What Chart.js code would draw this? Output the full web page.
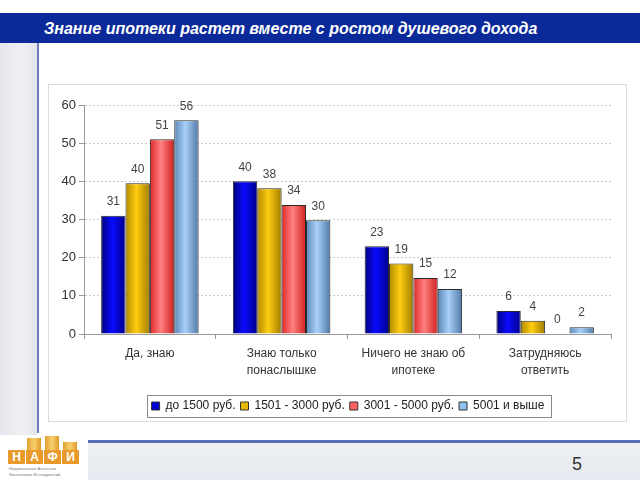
<!DOCTYPE html>
<html><head><meta charset="utf-8">
<script src="https://cdn.jsdelivr.net/npm/chart.js@4/dist/chart.umd.min.js"></script>
<style>
html,body{margin:0;padding:0;width:640px;height:480px;background:#fff;overflow:hidden;font-family:"Liberation Sans",Arial,sans-serif;}
#title{position:absolute;left:0;top:13px;width:640px;height:30px;background:#0b2a9a;color:#fff;font-weight:bold;font-style:italic;font-size:16px;line-height:31px;box-sizing:border-box;padding-left:44px;letter-spacing:0px;}
#leftstrip{position:absolute;left:0;top:43px;width:37px;height:392px;background:linear-gradient(90deg,#e4e6ec,#eef0f4 60%,#e2e4ea);}
#vline{position:absolute;left:37px;top:43px;width:2px;height:390px;background:#6b7fbf;}
#box{position:absolute;left:48px;top:84px;width:579px;height:338px;border:1px solid #dcdcdc;box-sizing:border-box;}
#cw{position:absolute;left:49px;top:85px;width:576px;height:335px;}
#hline{position:absolute;left:88px;top:440px;width:552px;height:3px;background:#5a6fb5;}
#band{position:absolute;left:88px;top:443px;width:552px;height:37px;background:linear-gradient(180deg,#eef0f4,#e6e9ef);}
#pnum{position:absolute;left:572px;top:454px;font-size:18px;color:#333;}
#logo{position:absolute;left:5px;top:436px;width:80px;height:44px;}
.col{position:absolute;background:linear-gradient(90deg,#e0a030,#f8d070 50%,#e09a28);}
.let{position:absolute;top:14px;width:17px;height:14px;background:#e89a2a;color:#fff;font-weight:bold;font-size:12px;line-height:14px;text-align:center;}
.sub{position:absolute;left:4px;font-size:4px;color:#777;white-space:nowrap;}
</style></head>
<body>
<div id="leftstrip"></div>
<div id="vline"></div>
<div id="title">Знание ипотеки растет вместе с ростом душевого дохода</div>
<div id="box"></div>
<div id="cw"><canvas id="c" width="576" height="335"></canvas></div>
<div id="band"></div>
<div id="hline"></div>
<div id="pnum">5</div>
<div id="logo">
 <div class="col" style="left:22px;top:2px;width:14px;height:12px;"></div>
 <div class="col" style="left:40px;top:0px;width:14px;height:14px;"></div>
 <div class="col" style="left:58px;top:6px;width:14px;height:8px;"></div>
 <div class="let" style="left:3px;">Н</div>
 <div class="let" style="left:21px;">А</div>
 <div class="let" style="left:39px;">Ф</div>
 <div class="let" style="left:57px;">И</div>
 <div class="sub" style="top:30px;">Национальное Агентство</div>
 <div class="sub" style="top:36px;">Финансовых Исследований</div>
</div>
<script>
const categories = [["Да, знаю"], ["Знаю только", "понаслышке"], ["Ничего не знаю об", "ипотеке"], ["Затрудняюсь", "ответить"]];
const seriesNames = ["до 1500 руб.", "1501 - 3000 руб.", "3001 - 5000 руб.", "5001 и выше"];
const s1 = [31, 40, 23, 6];
const s2 = [39.5, 38.2, 18.5, 3.5];
const s3 = [51, 33.8, 14.7, 0];
const s4 = [56, 29.8, 11.8, 1.8];
const yTicks = [0, 10, 20, 30, 40, 50, 60];

const FONT = "'Liberation Sans', Arial, sans-serif";
const palettes = [
  ["#00007a", "#0a0aff", "#00008a"],
  ["#b08a00", "#ffcc10", "#a07c00"],
  ["#e02828", "#ff8080", "#d02020"],
  ["#5a88b8", "#a8d0f8", "#5078a8"]
];
function grad(i) {
  return function (ctx) {
    const el = ctx.element;
    const p = palettes[i];
    if (!el || !isFinite(el.x) || !el.width) return p[1];
    const c = ctx.chart.ctx;
    const g = c.createLinearGradient(el.x - el.width / 2, 0, el.x + el.width / 2, 0);
    g.addColorStop(0, p[0]);
    g.addColorStop(0.45, p[1]);
    g.addColorStop(1, p[2]);
    return g;
  };
}
const legendColors = ["#0000d0", "#e8b800", "#ff6060", "#90c0f0"];
const allSeries = [s1, s2, s3, s4];

const labelPlugin = {
  id: "vals",
  afterDatasetsDraw(chart) {
    const c = chart.ctx;
    c.save();
    c.font = "12px " + FONT;
    c.fillStyle = "#444";
    c.textAlign = "center";
    c.textBaseline = "bottom";
    chart.data.datasets.forEach((ds, di) => {
      chart.getDatasetMeta(di).data.forEach((el, i) => {
        c.fillText(String(Math.round(ds.data[i])), el.x, el.y - 8);
      });
    });
    c.restore();
  }
};
const legendShift = {
  id: "legendShift",
  afterLayout(chart) {
    const l = chart.legend;
    const dx = 15, dy = 4;
    l.left += dx; l.right += dx; l.top += dy; l.bottom += dy;
  }
};
const legendBox = {
  id: "legendBox",
  afterDraw(chart) {
    const l = chart.legend;
    const hb = l.legendHitBoxes;
    if (!hb || !hb.length) return;
    let x0 = Infinity, x1 = -Infinity, y0 = Infinity, y1 = -Infinity;
    hb.forEach(h => { x0 = Math.min(x0, h.left); x1 = Math.max(x1, h.left + h.width); y0 = Math.min(y0, h.top); y1 = Math.max(y1, h.top + h.height); });
    const c = chart.ctx;
    c.save();
    c.strokeStyle = "#8a8a8a";
    c.lineWidth = 1;
    const cy = (y0 + y1) / 2;
    c.strokeRect(Math.round(x0 - 5) + 0.5, Math.round(cy - 11) + 0.5, Math.round(x1 - x0 + 11), 22);
    c.restore();
  }
};

const chart = new Chart(document.getElementById("c"), {
  type: "bar",
  data: {
    labels: categories,
    datasets: allSeries.map((d, i) => ({
      label: seriesNames[i],
      data: d,
      backgroundColor: grad(i),
      borderColor: "#2a2a2a",
      borderWidth: 1,
      categoryPercentage: 0.74,
      barPercentage: 1.0
    }))
  },
  options: {
    responsive: false,
    animation: false,
    layout: { padding: { left: 6, right: 14, top: 20, bottom: 2 } },
    plugins: {
      tooltip: { enabled: false },
      legend: {
        position: "bottom",
        labels: {
          color: "#222",
          font: { family: FONT, size: 12 },
          boxWidth: 8, boxHeight: 8, padding: 5,
          generateLabels: (chart) => seriesNames.map((n, i) => ({
            text: n, fillStyle: legendColors[i], strokeStyle: "#333", lineWidth: 1, datasetIndex: i, fontColor: "#222"
          }))
        }
      }
    },
    scales: {
      x: {
        afterFit: (s) => { s.height = 57; },
        grid: { display: true, drawOnChartArea: false, offset: true, color: "#999", tickLength: 5 },
        border: { color: "#999" },
        ticks: { color: "#333", font: { family: FONT, size: 12, lineHeight: 1.42 }, padding: 6 }
      },
      y: {
        min: 0, max: 60,
        afterFit: (s) => { s.width = 29; },
        afterBuildTicks: (ax) => { ax.ticks = yTicks.map(v => ({ value: v })); },
        grid: { color: "#c8c8c8", tickLength: 5, tickColor: "#999" },
        border: { color: "#999", dash: [2, 2] },
        ticks: { color: "#333", font: { family: FONT, size: 13 }, padding: 3 }
      }
    }
  },
  plugins: [legendShift, labelPlugin, legendBox]
});
chart.update();
</script>
</body></html>
